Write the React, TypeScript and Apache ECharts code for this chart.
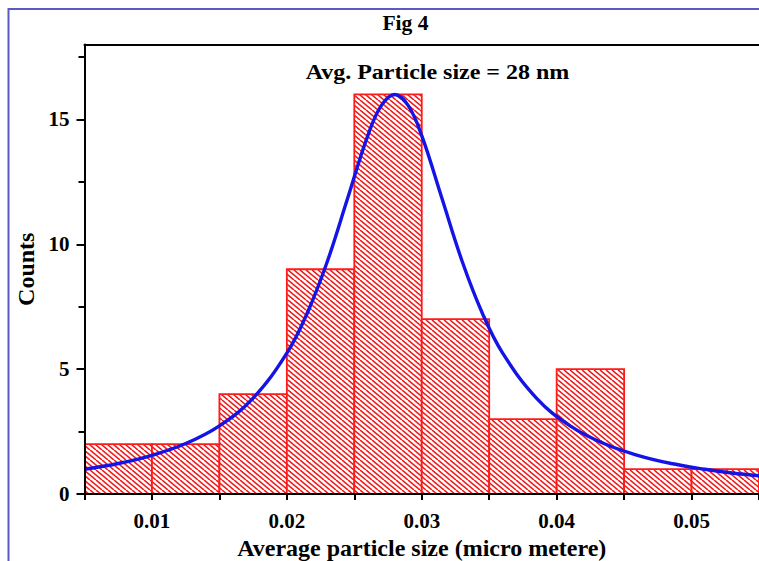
import { useEffect, useRef } from 'react';
import * as echarts from 'echarts';

const binEdges = [0.005, 0.01, 0.015, 0.02, 0.025, 0.03, 0.035, 0.04, 0.045, 0.05, 0.055];
const binCounts = [2, 2, 4, 9, 16, 7, 3, 5, 1, 1];

const curveX = [0.005, 0.0075, 0.01, 0.0125, 0.015, 0.0175, 0.02, 0.0215, 0.023, 0.0245, 0.026, 0.027, 0.028, 0.029, 0.03, 0.0315, 0.033, 0.0345, 0.036, 0.0385, 0.041, 0.0435, 0.046, 0.0485, 0.051, 0.053, 0.055];
const curveY = [0.99, 1.22, 1.55, 2.02, 2.73, 3.84, 5.64, 7.23, 9.31, 11.83, 14.35, 15.55, 16, 15.55, 14.35, 11.83, 9.31, 7.23, 5.64, 3.84, 2.73, 2.02, 1.55, 1.22, 0.99, 0.84, 0.73];

const yTickValues = [0, 5, 10, 15];

const titleText = 'Fig 4';
const noteText = 'Avg. Particle size = 28 nm';
const xName = 'Average particle size (micro metere)';
const yName = 'Counts';

const FONT = "'Liberation Serif', 'Times New Roman', serif";

const TILE_W = 12;
const TILE_H = 10;

function makeHatch(): string {
  const c = document.createElement('canvas');
  c.width = TILE_W;
  c.height = TILE_H;
  const ctx = c.getContext('2d')!;
  ctx.fillStyle = '#ffffff';
  ctx.fillRect(0, 0, TILE_W, TILE_H);
  ctx.strokeStyle = '#f01a1a';
  ctx.lineWidth = 1.6;
  for (let o = -2 * TILE_W; o <= 2 * TILE_W; o += TILE_W / 2) {
    ctx.beginPath();
    ctx.moveTo(o, 0);
    ctx.lineTo(o + TILE_W, TILE_H);
    ctx.stroke();
  }
  return c.toDataURL();
}

export default function App() {
  const ref = useRef<HTMLDivElement>(null);
  useEffect(() => {
    if (!ref.current) return;
    const chart = echarts.init(ref.current, null, { renderer: 'svg' });
    const hatch = makeHatch();
    const axisText = { color: '#000', fontFamily: FONT, fontWeight: 'bold' as const };
    chart.setOption({
      animation: false,
      backgroundColor: '#ffffff',
      grid: { left: 84.5, top: 44.5, right: 0, bottom: 67, containLabel: false, outerBoundsMode: 'none' },
      graphic: [
        {
          type: 'rect',
          shape: { x: 8.5, y: 9, width: 820, height: 620 },
          style: { fill: 'none', stroke: '#5a5ac4', lineWidth: 2 },
          silent: true,
          z: 0,
        },
        {
          type: 'text',
          x: 405.5,
          y: 23,
          scaleX: 1.08,
          style: {
            text: titleText,
            fontFamily: FONT,
            fontWeight: 'bold',
            fontSize: 20,
            fill: '#000',
            align: 'center',
            verticalAlign: 'middle',
          },
          z: 10,
        },
        {
          type: 'text',
          x: 437.5,
          y: 72,
          scaleX: 1.2,
          style: {
            text: noteText,
            fontFamily: FONT,
            fontWeight: 'bold',
            fontSize: 20,
            fill: '#000',
            align: 'center',
            verticalAlign: 'middle',
          },
          z: 10,
        },
      ],
      xAxis: [
        {
          type: 'value',
          min: 0.005,
          max: 0.055,
          interval: 0.005,
          name: xName,
          nameLocation: 'middle',
          nameGap: 37,
          nameTextStyle: { ...axisText, fontSize: 24 },
          axisLine: { onZero: false, lineStyle: { color: '#000', width: 2 } },
          axisTick: { length: 6, lineStyle: { color: '#000', width: 2 } },
          axisLabel: {
            ...axisText,
            fontSize: 21,
            margin: 16,
            formatter: (v: number) => (Math.round(v * 1000) % 10 === 0 ? v.toFixed(2) : ''),
          },
          splitLine: { show: false },
          z: 5,
        },
        {
          type: 'value',
          position: 'top',
          min: 0.005,
          max: 0.055,
          interval: 0.005,
          axisLine: { onZero: false, lineStyle: { color: '#000', width: 2 } },
          axisTick: { show: false },
          axisLabel: { show: false },
          splitLine: { show: false },
          z: 5,
        },
      ],
      yAxis: {
        type: 'value',
        min: 0,
        max: 18,
        interval: 5,
        name: yName,
        nameLocation: 'middle',
        nameGap: 46,
        nameTextStyle: { ...axisText, fontSize: 24 },
        axisLine: { show: true, onZero: false, lineStyle: { color: '#000', width: 2 } },
        axisTick: { show: true, length: 8, customValues: yTickValues, lineStyle: { color: '#000', width: 2 } },
        minorTick: { show: true, splitNumber: 2, length: 6, lineStyle: { color: '#000', width: 2 } },
        axisLabel: { ...axisText, fontSize: 21, margin: 15, customValues: yTickValues },
        splitLine: { show: false },
        minorSplitLine: { show: false },
        z: 5,
      },
      series: [
        {
          type: 'custom',
          xAxisIndex: 0,
          yAxisIndex: 0,
          data: binCounts.map((c, i) => [binEdges[i], binEdges[i + 1], c]),
          encode: { x: [0, 1], y: 2 },
          clip: true,
          z: 1,
          renderItem: (params: any, api: any) => {
            const p0 = api.coord([api.value(0), api.value(2)]);
            const p1 = api.coord([api.value(1), 0]);
            return {
              type: 'rect',
              shape: { x: p0[0], y: p0[1], width: p1[0] - p0[0], height: p1[1] - p0[1] },
              style: {
                fill: { image: hatch, repeat: 'repeat', imageWidth: TILE_W, imageHeight: TILE_H },
                stroke: '#ff1a1a',
                lineWidth: 1.8,
              },
            };
          },
        },
        {
          type: 'line',
          xAxisIndex: 0,
          yAxisIndex: 0,
          data: curveX.map((x, i) => [x, curveY[i]]),
          smooth: 0.4,
          showSymbol: false,
          clip: true,
          z: 3,
          lineStyle: { color: '#1414e6', width: 3.4 },
        },
      ],
    });
    return () => chart.dispose();
  }, []);
  return (
    <div
      ref={ref}
      style={{ position: 'absolute', left: 0, top: 0, width: 759, height: 561 }}
    />
  );
}
